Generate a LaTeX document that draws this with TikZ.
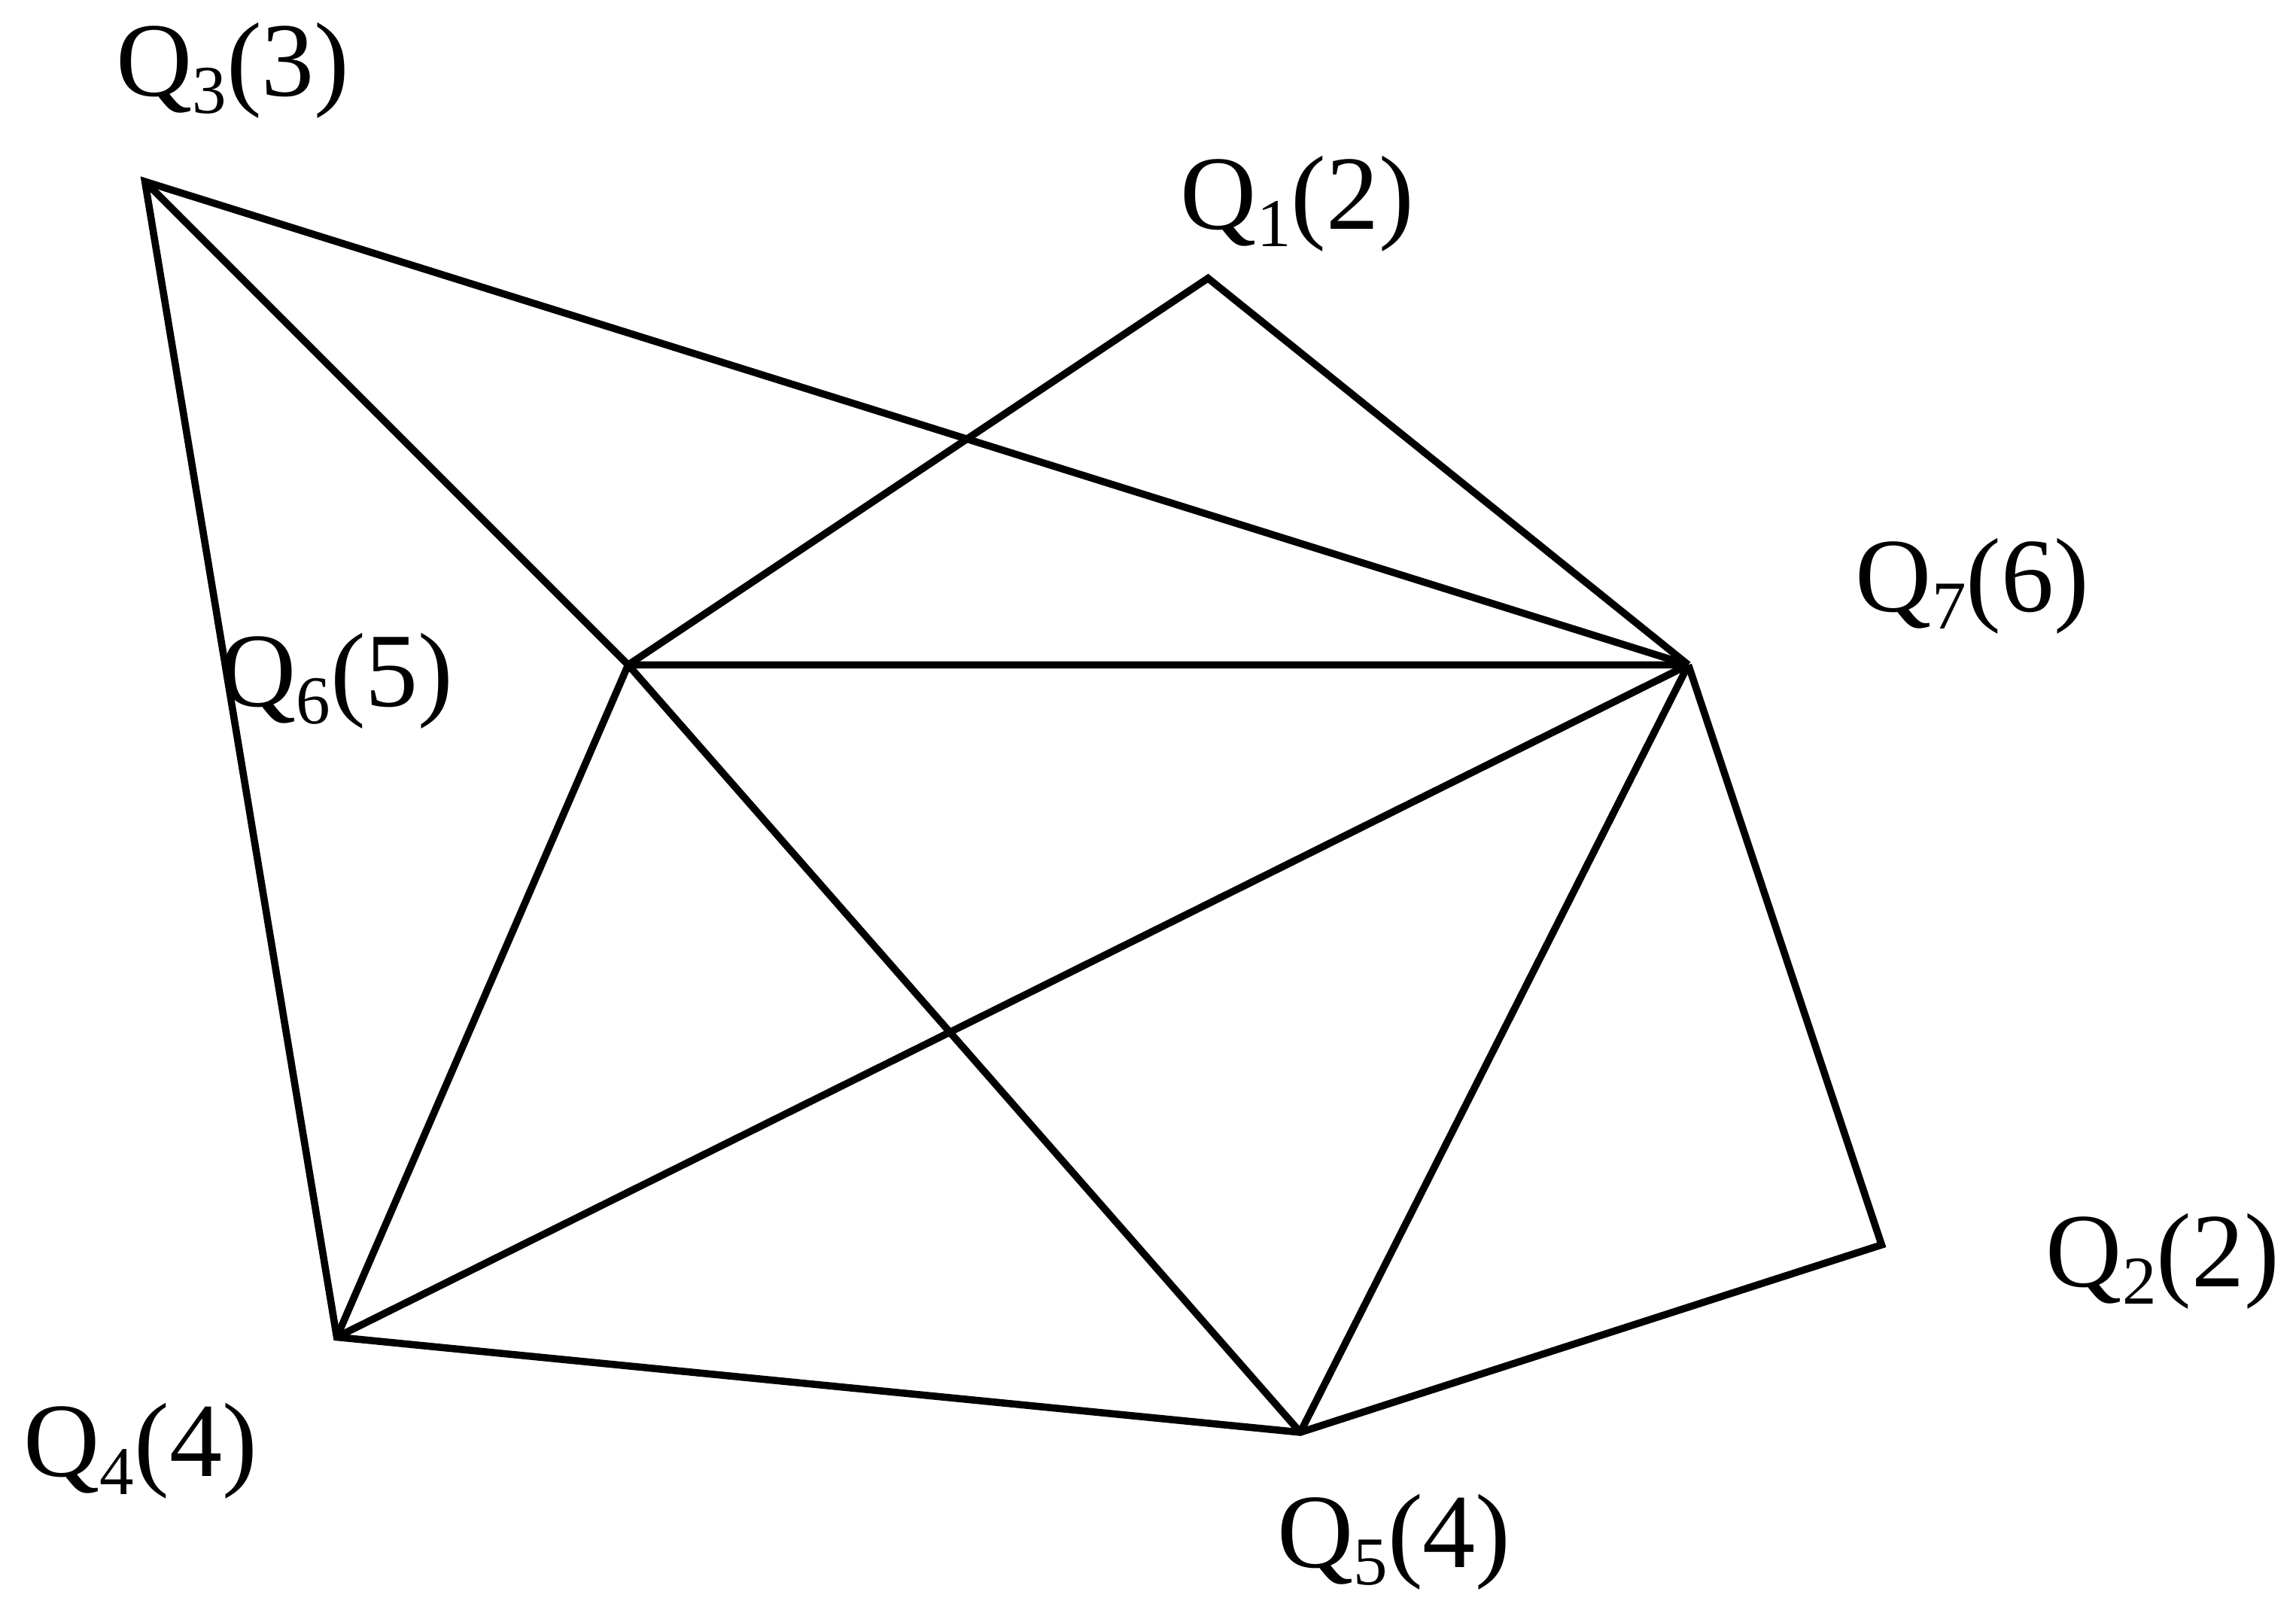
\documentclass[tikz,border=0pt]{standalone}
\usepackage{fontspec}
\setmainfont{Liberation Serif}
\usepackage{tikz}
\usetikzlibrary{calc}

\newcommand{\qlab}[2]{Q\raisebox{-3.4pt}{\fontsize{13.3}{14}\selectfont #1}(#2)}

\begin{document}
\begin{tikzpicture}[
    edge/.style={line width=1.4pt, black},
    vlabel/.style={inner sep=0pt, font=\fontsize{20.5}{24}\selectfont}]
    \useasboundingbox (0,0) rectangle (15.68,11.03);
    \coordinate (Q3) at (0.99,9.79);
    \coordinate (Q1) at (8.25,9.13);
    \coordinate (Q7) at (11.53,6.49);
    \coordinate (Q6) at (4.29,6.49);
    \coordinate (Q4) at (2.30,1.90);
    \coordinate (Q5) at (8.88,1.25);
    \coordinate (Q2) at (12.85,2.53);

    % outer edges
    \draw[edge] (Q7) -- (Q3) -- (Q4) -- (Q5) -- (Q2) -- (Q7);
    \draw[edge] (Q6) -- (Q1) -- (Q7);
    % inner edges
    \draw[edge] (Q3) -- (Q6) -- (Q5);
    \draw[edge] (Q6) -- (Q7) (Q6) -- (Q4);
    \draw[edge] (Q4) -- (Q7) (Q7) -- (Q5);

    \node[vlabel] (l3) at (1.59,10.55) {\qlab{3}{3}};
    \node[vlabel] (l1) at (8.86,9.64) {\qlab{1}{2}};
    \node[vlabel] (l7) at (13.47,7.03) {\qlab{7}{6}};
    \node[vlabel] (l6) at (2.30,6.38) {\qlab{6}{5}};
    \node[vlabel] (l4) at (0.96,1.12) {\qlab{4}{4}};
    \node[vlabel] (l5) at (9.52,0.50) {\qlab{5}{4}};
    \node[vlabel] (l2) at (14.77,2.42) {\qlab{2}{2}};
\end{tikzpicture}
\end{document}
